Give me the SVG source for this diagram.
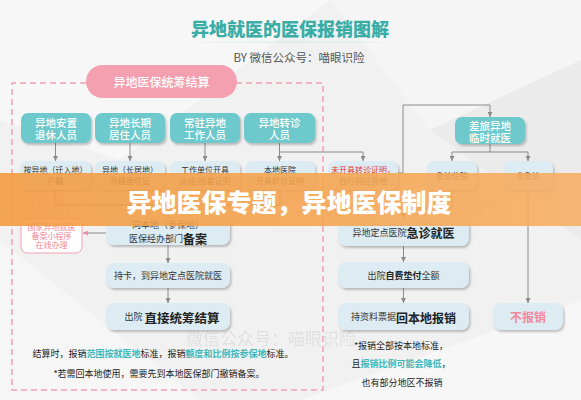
<svg xmlns="http://www.w3.org/2000/svg" width="581" height="400" viewBox="0 0 581 400">
<defs>
<style>
text{font-family:"Noto Sans CJK SC","Noto Sans",sans-serif;text-anchor:middle;dominant-baseline:central}
.teal rect{fill:#6dc9cb}
.teal text{fill:#fff;font-size:10.5px;font-weight:500}
.lb rect{fill:#ddecf3}
.lb text{fill:#333;font-size:8px}
.big rect{fill:#ddecf3}
.big text{fill:#333;font-size:9px}
.conn path{stroke:#8a8a8a;stroke-width:1;fill:none}
.b{font-weight:700;fill:#222}
.hl{fill:#3fb8bb;font-weight:700}
.note{fill:#222;font-size:9px}
.wm{fill:#8a8a8a;opacity:0.16;font-size:17px}
</style>
<filter id="sh" x="-10%" y="-15%" width="130%" height="150%"><feDropShadow dx="1.5" dy="2" stdDeviation="1.2" flood-color="#666" flood-opacity="0.4"/></filter>
<marker id="ar" viewBox="0 0 6 6" refX="6" refY="3" markerWidth="5" markerHeight="5" orient="auto"><path d="M0,0L6,3L0,6z" fill="#8a8a8a"/></marker>
<marker id="arp" viewBox="0 0 6 6" refX="6" refY="3" markerWidth="5" markerHeight="5" orient="auto"><path d="M0,0L6,3L0,6z" fill="#f08da0"/></marker>
<linearGradient id="bn" x1="0" y1="0" x2="1" y2="0"><stop offset="0" stop-color="#f39a3e"/><stop offset="0.5" stop-color="#f5a24c"/><stop offset="1" stop-color="#f7ae62"/></linearGradient>
<linearGradient id="ul" x1="0" y1="0" x2="1" y2="0"><stop offset="0" stop-color="#d6eeee" stop-opacity="0"/><stop offset="0.5" stop-color="#c9ecec"/><stop offset="1" stop-color="#d6eeee" stop-opacity="0"/></linearGradient>
</defs>
<g id="background">
<rect x="0" y="0" width="581" height="400" fill="#f1f1f1"/>
<polygon points="0,0 330,0 120,160 0,120" fill="#f7f7f7"/>
<polygon points="330,0 581,0 581,60 430,130" fill="#f5f5f5"/>
<polygon points="430,130 581,60 581,240" fill="#ebebeb"/>
<polygon points="0,240 200,400 0,400" fill="#f6f6f6"/>
<polygon points="300,400 581,300 581,400" fill="#f7f7f7"/>
</g>
<g id="title">
<text x="290" y="28" font-size="18" font-weight="900" fill="#3aaea6">异地就医的医保报销图解</text>
<rect x="163" y="41.5" width="263" height="1.2" fill="url(#ul)"/>
<text x="299" y="57" font-size="11.5" fill="#555">BY 微信公众号：喵眼识险</text>
</g>
<g id="frame" fill="none" stroke="#f0a0b4" stroke-width="1.5" stroke-dasharray="6 4">
<path d="M86,83 H12 V390 H323 V83 H237"/>
</g>
<g class="conn">
<path d="M55.5,143 V161" marker-end="url(#ar)"/>
<path d="M130,143 V161" marker-end="url(#ar)"/>
<path d="M205,143 V161" marker-end="url(#ar)"/>
<path d="M279.5,143 V161" marker-end="url(#ar)"/>
<path d="M279.5,152 H363 V161" marker-end="url(#ar)"/>
<path d="M490,144 V152"/>
<path d="M452,152 H528"/>
<path d="M452,152 V161" marker-end="url(#ar)"/>
<path d="M528,152 V161" marker-end="url(#ar)"/>
<path d="M398,173 H403 V105 H490 V117" marker-end="url(#ar)"/>
<path d="M55,190 V205 H280 V190"/>
<path d="M130,190 V205"/>
<path d="M205,190 V205"/>
<path d="M168,205 V217" marker-end="url(#ar)"/>
<path d="M452,190 V208 H403.5 V218" marker-end="url(#ar)"/>
<path d="M528,190 V303" marker-end="url(#ar)"/>
<path d="M168,245 V263" marker-end="url(#ar)"/>
<path d="M168,288 V303" marker-end="url(#ar)"/>
<path d="M403.5,246 V262" marker-end="url(#ar)"/>
<path d="M403.5,288 V303" marker-end="url(#ar)"/>
<path d="M106,233 H83" stroke="#f08da0" marker-end="url(#arp)"/>
</g>
<g id="root">
<rect x="86" y="65" width="151" height="33" rx="16.5" fill="#f4a0b0"/>
<text x="161.5" y="81.5" font-size="12" fill="#fff" font-weight="500">异地医保统筹结算</text>
</g>
<g id="n1" class="teal"><rect x="21" y="113" width="70" height="30" rx="7" filter="url(#sh)"/><text x="56" y="122.5">异地安置</text><text x="56" y="134.5">退休人员</text></g>
<g id="n2" class="teal"><rect x="95" y="113" width="70" height="30" rx="7" filter="url(#sh)"/><text x="130" y="122.5">异地长期</text><text x="130" y="134.5">居住人员</text></g>
<g id="n3" class="teal"><rect x="170" y="113" width="70" height="30" rx="7" filter="url(#sh)"/><text x="205" y="122.5">常驻异地</text><text x="205" y="134.5">工作人员</text></g>
<g id="n4" class="teal"><rect x="244" y="113" width="71" height="30" rx="7" filter="url(#sh)"/><text x="279.5" y="122.5">异地转诊</text><text x="279.5" y="134.5">人员</text></g>
<g id="n5" class="teal"><rect x="455" y="117" width="70" height="27" rx="7" filter="url(#sh)"/><text x="490" y="125">差旅异地</text><text x="490" y="137">临时就医</text></g>
<g id="m1" class="lb"><rect x="20" y="161" width="71" height="29" rx="7" filter="url(#sh)"/><text x="55.5" y="169.5">按异地（迁入地）</text><text x="55.5" y="180">户籍</text></g>
<g id="m2" class="lb"><rect x="95" y="161" width="70" height="29" rx="7" filter="url(#sh)"/><text x="130" y="169.5">异地（长居地）</text><text x="130" y="180">办理居住证</text></g>
<g id="m3" class="lb"><rect x="170" y="161" width="70" height="29" rx="7" filter="url(#sh)"/><text x="205" y="169.5">工作单位开具</text><text x="205" y="180">派驻/出差证明</text></g>
<g id="m4" class="lb"><rect x="245" y="161" width="70" height="29" rx="7" filter="url(#sh)"/><text x="280" y="169.5">本地医院</text><text x="280" y="180">开具转诊证明</text></g>
<g id="m5" class="lb"><rect x="328" y="161" width="70" height="29" rx="7" filter="url(#sh)"/><text x="363" y="169.5" style="fill:#e03535">未开具转诊证明，</text><text x="363" y="180">自行前往异地</text></g>
<g id="m6" class="lb"><rect x="427" y="161" width="50" height="29" rx="7" filter="url(#sh)"/><text x="452" y="175.5">急诊住院</text></g>
<g id="m7" class="lb"><rect x="503" y="161" width="50" height="29" rx="7" filter="url(#sh)"/><text x="528" y="175.5">非急诊</text></g>
<g id="mini">
<rect x="21" y="218" width="61" height="35" rx="6" fill="#fff" stroke="#f0a0b0" stroke-width="1"/>
<text x="51.5" y="226.5" font-size="8" fill="#ef8798">国家异地就医</text>
<text x="51.5" y="235.5" font-size="8" fill="#ef8798">备案小程序</text>
<text x="51.5" y="244.5" font-size="8" fill="#ef8798">在线办理</text>
</g>
<g id="l1" class="big"><rect x="106" y="217" width="124" height="28" rx="8" filter="url(#sh)"/><text x="168" y="224.5" font-size="8.5">向本地（参保地）</text><text x="168" y="238">医保经办部门<tspan class="b" font-size="12">备案</tspan></text></g>
<g id="l2" class="big"><rect x="106" y="263" width="124" height="25" rx="8" filter="url(#sh)"/><text x="168" y="275.5">持卡，到异地定点医院就医</text></g>
<g id="l3" class="big"><rect x="106" y="303" width="124" height="27" rx="8" filter="url(#sh)"/><text x="172" y="316.5">出院 <tspan class="b" font-size="12.5">直接统筹结算</tspan></text></g>
<g id="c1" class="big"><rect x="338" y="218" width="131" height="28" rx="8" filter="url(#sh)"/><text x="403.5" y="232">异地定点医院<tspan class="b" font-size="12">急诊就医</tspan></text></g>
<g id="c2" class="big"><rect x="338" y="262" width="131" height="26" rx="8" filter="url(#sh)"/><text x="403.5" y="275">出院<tspan class="b">自费垫付</tspan>全额</text></g>
<g id="c3" class="big"><rect x="338" y="303" width="131" height="27" rx="8" filter="url(#sh)"/><text x="403.5" y="316.5">持资料票据<tspan class="b" font-size="12">回本地报销</tspan></text></g>
<g id="r1" class="big"><rect x="493" y="303" width="70" height="27" rx="8" filter="url(#sh)"/><text x="528" y="316.5" style="fill:#f08a9c;font-size:12px;font-weight:700">不报销</text></g>
<g id="notes">
<text class="note" x="163" y="353">结算时，报销<tspan class="hl">范围按就医地</tspan>标准，报销<tspan class="hl">额度和比例按参保地</tspan>标准。</text>
<text class="note" x="159" y="373">*若需回本地使用，需要先到本地医保部门撤销备案。</text>
<text class="note" x="401" y="345">*报销全部按本地标准，</text>
<text class="note" x="401" y="363">且<tspan class="hl">报销比例可能会降低</tspan>，</text>
<text class="note" x="402" y="382">也有部分地区不报销</text>
</g>
<g id="watermarks">
<text class="wm" x="122" y="205">微信公众号：喵眼识险</text>
<text class="wm" x="424" y="205">微信公众号：喵眼识险</text>
<text class="wm" x="271" y="337">微信公众号：喵眼识险</text>
</g>
<g id="banner">
<rect x="0" y="173" width="581" height="53" fill="url(#bn)" opacity="0.88"/>
<text x="289" y="201" font-size="25" font-weight="900" fill="#fff">异地医保专题，异地医保制度</text>
</g>
</svg>
